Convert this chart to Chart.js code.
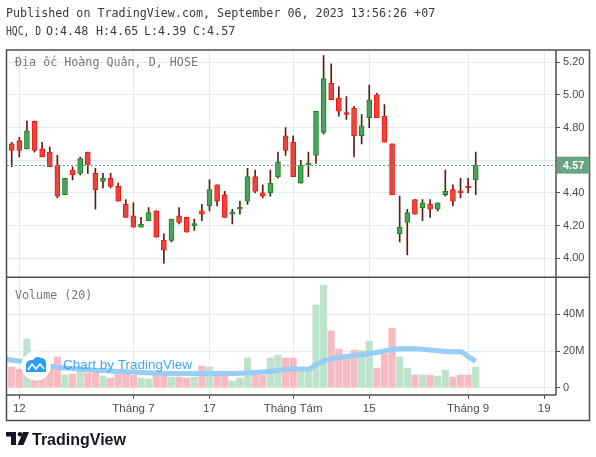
<!DOCTYPE html>
<html><head><meta charset="utf-8">
<script src="https://cdn.jsdelivr.net/npm/chart.js@4/dist/chart.umd.min.js"></script>
<style>html,body{margin:0;padding:0;background:#fff;}canvas{display:block;}</style>
</head><body>
<canvas id="c" width="596" height="457"></canvas>
<script>
// ---- data ----
const openP  = [4.70,4.72,4.67,4.84,4.67,4.65,4.57,4.39,4.54,4.52,4.65,4.52,4.47,4.49,4.44,4.33,4.26,4.19,4.23,4.29,4.11,4.11,4.26,4.25,4.20,4.29,4.32,4.45,4.39,4.27,4.30,4.35,4.50,4.40,4.40,4.50,4.75,4.71,4.46,4.57,4.63,4.77,5.07,4.98,4.89,4.92,4.75,4.86,5.00,4.87,4.70,4.15,4.22,4.36,4.31,4.33,4.30,4.39,4.42,4.41,4.44,4.48];
const highP  = [4.71,4.74,4.84,4.84,4.71,4.68,4.63,4.49,4.56,4.62,4.65,4.55,4.52,4.52,4.46,4.36,4.34,4.25,4.31,4.29,4.15,4.24,4.31,4.25,4.24,4.33,4.48,4.45,4.41,4.30,4.35,4.55,4.54,4.45,4.54,4.65,4.80,4.75,4.60,4.65,4.90,5.24,5.19,5.05,4.99,4.93,4.88,5.06,5.01,4.94,4.70,4.38,4.30,4.36,4.36,4.36,4.34,4.54,4.45,4.49,4.49,4.65];
const lowP   = [4.56,4.62,4.67,4.65,4.62,4.56,4.37,4.39,4.48,4.51,4.52,4.30,4.43,4.43,4.35,4.25,4.19,4.19,4.23,4.13,3.97,4.10,4.21,4.16,4.17,4.23,4.29,4.32,4.25,4.21,4.27,4.33,4.40,4.37,4.38,4.49,4.63,4.50,4.46,4.50,4.58,4.76,4.97,4.87,4.85,4.62,4.70,4.80,4.86,4.71,4.39,4.10,4.02,4.27,4.23,4.25,4.29,4.38,4.32,4.37,4.40,4.39];
const closeP = [4.66,4.66,4.78,4.66,4.62,4.56,4.38,4.49,4.51,4.61,4.57,4.42,4.49,4.44,4.35,4.25,4.19,4.21,4.28,4.13,4.05,4.24,4.22,4.16,4.20,4.27,4.42,4.35,4.25,4.27,4.31,4.50,4.41,4.38,4.46,4.59,4.66,4.50,4.57,4.58,4.90,5.10,4.97,4.90,4.88,4.75,4.81,4.97,4.86,4.71,4.39,4.19,4.28,4.27,4.34,4.30,4.34,4.41,4.35,4.40,4.43,4.57];
// volume in millions
const volumeM = [11.3,10.2,26.5,14,10,12,16.7,6.9,7.4,9.6,8.0,10.2,6.4,5.3,8.5,9.6,6.9,5.3,4.7,8.0,8.5,5.8,5.8,5.3,5.8,11.8,11.3,7.4,6.4,3.6,5.3,16.2,8.5,6.9,16.2,17.8,16.2,16.2,9.5,10,45,56,30.9,21,17.3,20.5,20.2,25.4,10.7,18.5,32.5,16.7,10.7,6.9,6.9,6.9,6.4,9.6,5.8,6.9,6.9,11.3];
// Volume MA(20) line (first value = just before the first bar)
const volMA = [16,15,14.5,14,13,12.3,11.7,11.2,10.8,10.4,10.1,9.8,9.5,9.3,9.1,8.9,8.7,8.5,8.3,8.1,8.0,7.9,7.8,7.7,7.7,7.7,7.7,7.8,7.8,7.8,7.8,7.9,8.1,8.3,8.6,9.0,9.5,9.9,10.2,10.2,10.2,12.5,14.5,15.7,16.5,17,17.5,18,18.6,19.2,20,20.8,21.2,21.3,21.2,21,20.6,20.2,19.8,19.6,19.6,17,14.5];
const timeTickPos = [2,17,27,38,48,61,71];
const timeTickLabels = ['12','Tháng 7','17','Tháng Tám','15','Tháng 9','19'];
const priceTicks = [4.0,4.2,4.4,4.6,4.8,5.0,5.2];
const volTicks = [0,20,40];
const lastPrice = 4.57;

// ---- build datasets ----
const up = openP.map((o,i)=>closeP[i]>=o);
const bodies = openP.map((o,i)=>({x:i+1, y:[o, closeP[i]]}));
const wicks = openP.map((o,i)=>({x:i+1, y:[lowP[i], highP[i]]}));
const vols = volumeM.map((v,i)=>({x:i+1, y:v}));
const ma = volMA.map((v,i)=>({x:i, y:v}));

const GRID = '#e1ecf2';
const TXT = '#4a4a4a';
const AX = '#555';

const chromePlugin = {
  id:'chrome',
  afterDatasetsDraw(chart){
    const {ctx, chartArea:a, scales} = chart;
    const yp = scales.y;
    ctx.save();
    const ly = Math.round(yp.getPixelForValue(lastPrice))+0.5;
    ctx.strokeStyle = '#5e9b7b'; ctx.lineWidth = 1; ctx.setLineDash([2,2]);
    ctx.beginPath(); ctx.moveTo(a.left, ly); ctx.lineTo(a.right, ly); ctx.stroke();
    ctx.setLineDash([]);
    ctx.restore();
  },
  afterDraw(chart){
    const {ctx, chartArea:a, scales} = chart;
    const yp = scales.y;
    ctx.save();
    // watermark
    ctx.shadowColor = 'rgba(0,0,0,0.12)'; ctx.shadowBlur = 3;
    ctx.fillStyle = 'rgba(255,255,255,0.95)';
    ctx.beginPath(); ctx.arc(36, 366, 15, 0, Math.PI*2); ctx.fill();
    ctx.shadowColor = 'transparent'; ctx.shadowBlur = 0;
    ctx.fillStyle = '#2a9df4';
    ctx.beginPath();
    ctx.moveTo(26,372); ctx.lineTo(26,366);
    ctx.quadraticCurveTo(26,359,33,360);
    ctx.quadraticCurveTo(36,355,41,358);
    ctx.quadraticCurveTo(47,358,46,366);
    ctx.lineTo(46,372); ctx.closePath(); ctx.fill();
    ctx.strokeStyle = '#fff'; ctx.lineWidth = 1.6;
    ctx.beginPath(); ctx.moveTo(28,370); ctx.lineTo(32,364); ctx.lineTo(36,369); ctx.lineTo(40,364); ctx.lineTo(44,369); ctx.stroke();
    ctx.fillStyle = 'rgba(33,150,243,0.85)';
    ctx.font = '13.5px "Liberation Sans", Arial, sans-serif';
    ctx.textBaseline = 'alphabetic'; ctx.textAlign='left';
    ctx.fillText('Chart by TradingView', 63, 369);

    // frame lines
    ctx.strokeStyle = '#4d4d4d'; ctx.lineWidth = 1.5;
    ctx.strokeRect(6.5, a.top, 583, 420.5 - a.top);
    const sep = yp.bottom;
    ctx.beginPath();
    ctx.moveTo(6.5, sep); ctx.lineTo(589.5, sep);
    ctx.moveTo(a.right, a.top); ctx.lineTo(a.right, a.bottom);
    ctx.moveTo(6.5, a.bottom); ctx.lineTo(a.right, a.bottom);
    ctx.stroke();

    // last price badge
    const ly = yp.getPixelForValue(lastPrice);
    ctx.fillStyle = '#68a482';
    ctx.fillRect(a.right+1, ly-8.5, 589.5-a.right-1, 17);
    ctx.fillStyle = '#fff';
    ctx.font = 'bold 11px "Liberation Sans", Arial, sans-serif';
    ctx.textBaseline = 'middle';
    ctx.fillText(lastPrice.toFixed(2), 563, ly+0.5);

    // pane titles
    ctx.fillStyle = '#777';
    ctx.font = '11.7px "DejaVu Sans Mono", monospace';
    ctx.textBaseline = 'middle';
    ctx.fillText('Địa ốc Hoàng Quân, D, HOSE', 15, 63);
    ctx.fillText('Volume (20)', 15, 296);

    // header
    ctx.fillStyle = '#3a3a3a';
    ctx.fillText('Published on TradingView.com, September 06, 2023 13:56:26 +07', 6, 14);
    ctx.fillText('HQC, D', 6, 32, 35);
    ctx.fillText('O:4.48', 46, 32);
    ctx.fillText('H:4.65', 96, 32);
    ctx.fillText('L:4.39', 144, 32);
    ctx.fillText('C:4.57', 193, 32);

    // footer logo
    ctx.fillStyle = '#131722';
    ctx.beginPath();
    ctx.moveTo(6,432); ctx.lineTo(16,432); ctx.lineTo(16,445); ctx.lineTo(11,445); ctx.lineTo(11,436.5); ctx.lineTo(6,436.5); ctx.closePath(); ctx.fill();
    ctx.beginPath(); ctx.arc(20,434.3,2.3,0,Math.PI*2); ctx.fill();
    ctx.beginPath(); ctx.moveTo(23,432); ctx.lineTo(29,432); ctx.lineTo(23.5,445); ctx.lineTo(17.5,445); ctx.closePath(); ctx.fill();
    ctx.font = 'bold 16px "Liberation Sans", Arial, sans-serif';
    ctx.textBaseline = 'alphabetic';
    ctx.fillText('TradingView', 32, 444.5);
    ctx.restore();
  }
};

new Chart(document.getElementById('c'), {
  data: {
    datasets: [
      { type:'bar', label:'wick', data:wicks, yAxisID:'y', grouped:false, barThickness:1,
        backgroundColor:'#5a1e17', order:3 },
      { type:'bar', label:'body', data:bodies, yAxisID:'y', grouped:false, barThickness:5, minBarLength:2,
        backgroundColor: up.map(u=>u?'#4e9f62':'#e24a3d'),
        borderColor: up.map(u=>u?'#108a10':'#ff1010'),
        borderWidth:1, borderSkipped:false, order:2 },
      { type:'bar', label:'volume', data:vols, yAxisID:'yv', grouped:false, barThickness:6.5,
        backgroundColor: up.map(u=>u?'#bde3cd':'#f6bcc1'), order:4 },
      { type:'line', label:'ma', data:ma, yAxisID:'yv', borderColor:'#97cdf6', borderWidth:5,
        pointRadius:0, cubicInterpolationMode:'monotone', clip:0, order:1 }
    ]
  },
  options: {
    responsive:false, animation:false, events:[],
    layout:{ padding:{ top:50, left:7, right:6, bottom:37 } },
    plugins:{ legend:{display:false}, tooltip:{enabled:false} },
    scales:{
      x:{ type:'linear', min:0.38, max:72.55, position:'bottom', offset:false,
          afterBuildTicks: s => { s.ticks = timeTickPos.map(v=>({value:v})); },
          afterFit: s => { s.height = 25; },
          ticks:{ autoSkip:false, maxRotation:0, padding:3, color:TXT,
                  font:{family:'"Liberation Sans", Arial, sans-serif', size:11.5},
                  callback:(v)=>{ const k = timeTickPos.indexOf(v); return k<0?'':timeTickLabels[k]; } },
          grid:{ color:GRID, tickColor:AX, tickLength:4, drawTicks:true, offset:false },
          border:{ display:false } },
      y:{ type:'linear', position:'right', stack:'panes', stackWeight:227.3, min:3.8837, max:5.2747,
          afterBuildTicks: s => { s.ticks = priceTicks.map(v=>({value:v})); },
          afterFit: s => { s.width = 34; },
          ticks:{ padding:3, color:TXT, font:{family:'"Liberation Sans", Arial, sans-serif', size:11},
                  callback:(v)=> Math.abs(v-lastPrice)<0.05 ? '' : v.toFixed(2) },
          grid:{ color:GRID, tickColor:AX, tickLength:4 },
          border:{ display:false } },
      yv:{ type:'linear', position:'right', stack:'panes', stackWeight:117.7, min:-3.98, max:60.2,
          afterBuildTicks: s => { s.ticks = volTicks.map(v=>({value:v})); },
          afterFit: s => { s.width = 34; },
          ticks:{ padding:3, color:TXT, font:{family:'"Liberation Sans", Arial, sans-serif', size:11},
                  callback:(v)=> v===0 ? '0' : v+'M' },
          grid:{ color:GRID, tickColor:AX, tickLength:4 },
          border:{ display:false } }
    }
  },
  plugins:[chromePlugin]
});
</script>
</body></html>
